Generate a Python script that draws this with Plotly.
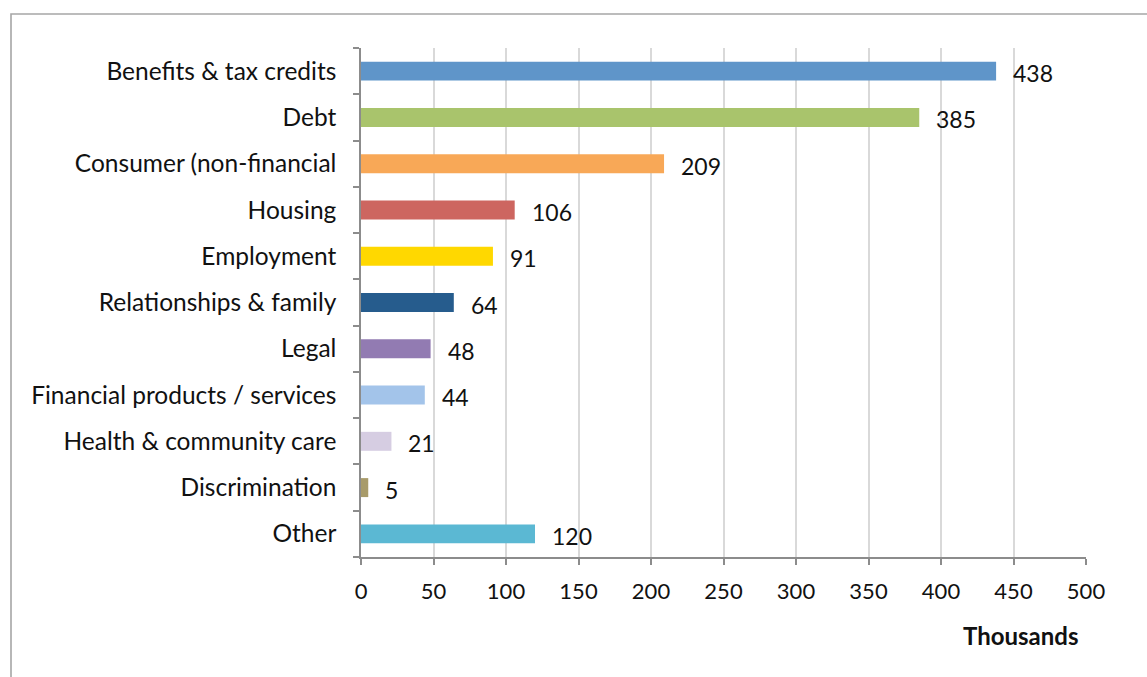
import plotly.graph_objects as go

categories = [
    "Benefits & tax credits",
    "Debt",
    "Consumer (non-financial",
    "Housing",
    "Employment",
    "Relationships & family",
    "Legal",
    "Financial products / services",
    "Health & community care",
    "Discrimination",
    "Other",
]
values = [438, 385, 209, 106, 91, 64, 48, 44, 21, 5, 120]
colors = [
    "#5F95C9", "#A9C46C", "#F8A857", "#CD6660", "#FFD800", "#265C8D",
    "#927BB2", "#A3C4EA", "#D6CDE2", "#A89B6A", "#5BB8D3",
]
x_ticks = [0, 50, 100, 150, 200, 250, 300, 350, 400, 450, 500]

FONT = "Lato"
TXT = "#111111"

fig = go.Figure(
    go.Bar(
        y=categories,
        x=values,
        orientation="h",
        marker=dict(color=colors, line=dict(width=0)),
        hoverinfo="x+y",
    )
)

# value labels placed just past each bar end
for cat, val in zip(categories, values):
    fig.add_annotation(
        x=val, y=cat, text=str(val), showarrow=False,
        xanchor="left", yanchor="middle", xshift=15, yshift=-2,
        font=dict(family=FONT, size=23, color=TXT),
    )

fig.add_annotation(
    x=1.0, y=0, xref="paper", yref="paper", text="<b>Thousands</b>",
    showarrow=False, xanchor="right", yanchor="top", xshift=-6, yshift=-62,
    font=dict(family=FONT, size=24, color=TXT),
)

# outer chart frame
fig.add_shape(
    type="rect", xref="paper", yref="paper",
    x0=(11 - 361) / 725, x1=(1170 - 361) / 725,
    y0=(557 - 700) / 509, y1=(557 - 14) / 509,
    line=dict(color="#A6A6A6", width=1.6), fillcolor="rgba(0,0,0,0)",
    layer="below",
)

fig.update_layout(
    width=1147, height=677,
    margin=dict(l=361, r=61, t=48, b=120),
    paper_bgcolor="white", plot_bgcolor="white",
    bargap=0.59, showlegend=False,
    font=dict(family=FONT, size=22, color=TXT),
    xaxis=dict(
        range=[0, 500], tickvals=x_ticks, ticktext=[str(t) for t in x_ticks],
        showgrid=True, gridcolor="#D9D9D9", gridwidth=1.5,
        showline=True, linecolor="#8C8C8C", linewidth=1.5,
        ticks="outside", ticklen=6, tickcolor="#8C8C8C", tickwidth=1.5,
        zeroline=False, fixedrange=True, ticklabelstandoff=8,
        tickfont=dict(family=FONT, size=22, color=TXT),
    ),
    yaxis=dict(
        categoryorder="array", categoryarray=categories[::-1],
        showline=True, linecolor="#8C8C8C", linewidth=1.5,
        ticks="outside", ticklen=6, tickcolor="#8C8C8C", tickwidth=1.5,
        tickson="boundaries", showgrid=False, fixedrange=True,
        ticklabelstandoff=18,
        tickfont=dict(family=FONT, size=24.5, color=TXT),
    ),
)

fig.write_html("out.html")
